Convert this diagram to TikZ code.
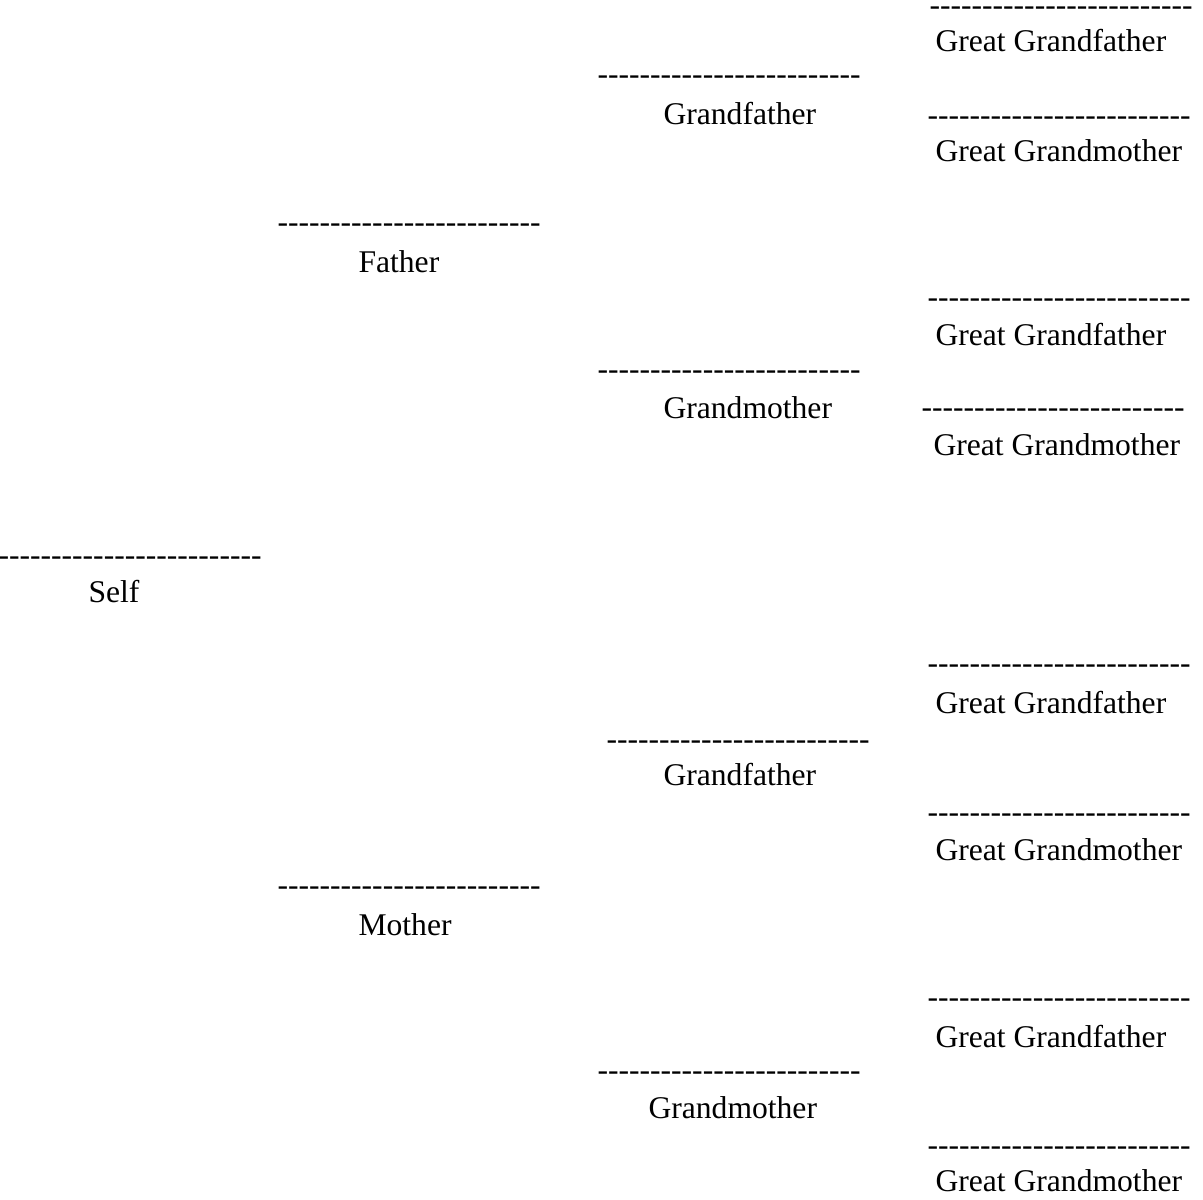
\documentclass[tikz,border=0pt]{standalone}
\usepackage{fontspec}
\setmainfont{Liberation Serif}[Ligatures=TeXOff]
\newcommand{\dashrow}{-------------------------}

\begin{document}
\begin{tikzpicture}[x=0.375pt, y=-0.375pt,
					rule/.style={anchor=base west, inner sep=0pt, font=\fontsize{11.85}{14}\selectfont},
					person/.style={anchor=base west, inner sep=0pt, font=\fontsize{11.85}{14}\selectfont},
				]
			        \useasboundingbox (0, 0) rectangle (1203, 1199);

			        % self
			        \node[rule] (selfline) at (-2, 565) {\dashrow};
			        \node[person] (self) at (88, 602) {Self};

			        % parents
			        \node[rule] (fatherline) at (277, 232) {\dashrow};
			        \node[person] (father) at (358, 272) {Father};
			        \node[rule] (motherline) at (277, 895) {\dashrow};
			        \node[person] (mother) at (358, 935) {Mother};

			        % grandparents
			        \node[rule] (gfaline) at (597, 84) {\dashrow};
			        \node[person] (gfa) at (663, 124) {Grandfather};
			        \node[rule] (gmaline) at (597, 379) {\dashrow};
			        \node[person] (gma) at (663, 418) {Grandmother};
			        \node[rule] (gfbline) at (606, 749) {\dashrow};
			        \node[person] (gfb) at (663, 785) {Grandfather};
			        \node[rule] (gmbline) at (597, 1080) {\dashrow};
			        \node[person] (gmb) at (648, 1118) {Grandmother};

			        % great grandparents
			        \node[rule] (ggfaline) at (929, 15) {\dashrow};
			        \node[person] (ggfa) at (935, 51) {Great Grandfather};
			        \node[rule] (ggmaline) at (927, 125) {\dashrow};
			        \node[person] (ggma) at (935, 161) {Great Grandmother};
			        \node[rule] (ggfbline) at (927, 307) {\dashrow};
			        \node[person] (ggfb) at (935, 345) {Great Grandfather};
			        \node[rule] (ggmbline) at (921, 417) {\dashrow};
			        \node[person] (ggmb) at (933, 455) {Great Grandmother};
			        \node[rule] (ggfcline) at (927, 673) {\dashrow};
			        \node[person] (ggfc) at (935, 713) {Great Grandfather};
			        \node[rule] (ggmcline) at (927, 822) {\dashrow};
			        \node[person] (ggmc) at (935, 860) {Great Grandmother};
			        \node[rule] (ggfdline) at (927, 1007) {\dashrow};
			        \node[person] (ggfd) at (935, 1047) {Great Grandfather};
			        \node[rule] (ggmdline) at (927, 1155) {\dashrow};
			        \node[person] (ggmd) at (935, 1191) {Great Grandmother};
			    \end{tikzpicture}
\end{document}
